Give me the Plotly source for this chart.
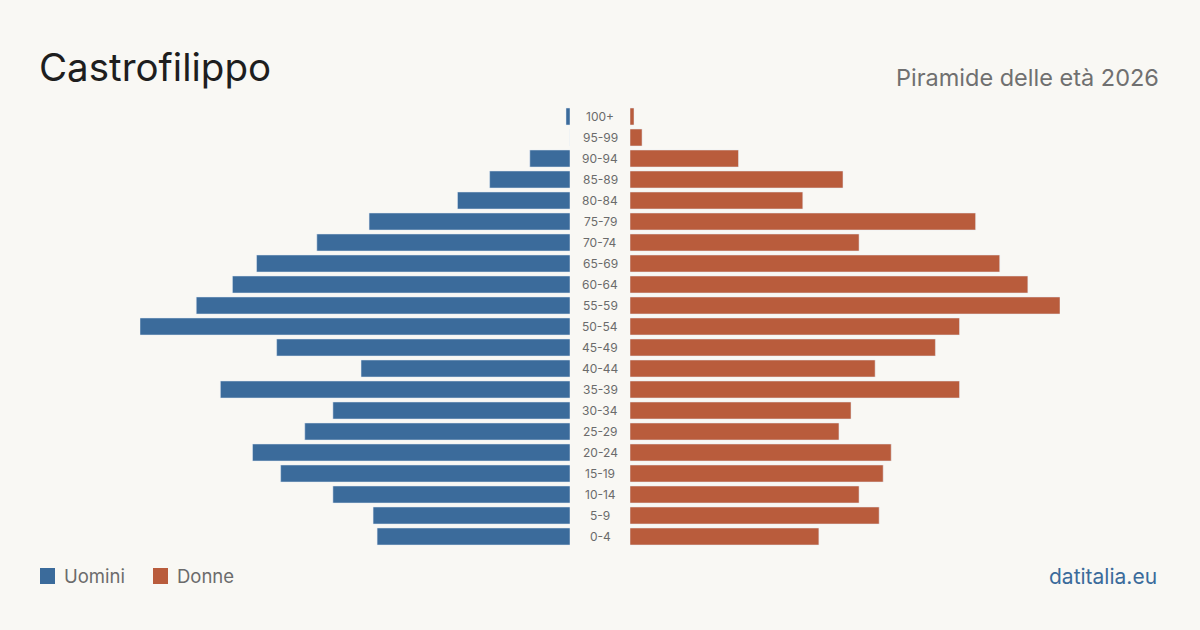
import plotly.graph_objects as go

age_groups = ["0-4", "5-9", "10-14", "15-19", "20-24", "25-29", "30-34", "35-39",
              "40-44", "45-49", "50-54", "55-59", "60-64", "65-69", "70-74",
              "75-79", "80-84", "85-89", "90-94", "95-99", "100+"]
uomini = [48, 49, 59, 72, 79, 66, 59, 87, 52, 73, 107, 93, 84, 78, 63, 50, 28, 20, 10, 0, 1]
donne = [47, 62, 57, 63, 65, 52, 55, 82, 61, 76, 82, 107, 99, 92, 57, 86, 43, 53, 27, 3, 1]

title = "Castrofilippo"
subtitle = "Piramide delle età 2026"
source = "datitalia.eu"

BLUE = "#3b6b9b"
ORANGE = "#b95c3c"
BG = "#f9f8f4"
W, H = 1200, 630

vmax = max(max(uomini), max(donne))

fig = go.Figure()
fig.add_trace(go.Bar(y=age_groups, x=uomini, orientation="h", marker_color=BLUE,
                     name="Uomini", xaxis="x", yaxis="y", showlegend=False,
                     hovertemplate="%{y}: %{x}<extra>Uomini</extra>"))
fig.add_trace(go.Bar(y=age_groups, x=donne, orientation="h", marker_color=ORANGE,
                     name="Donne", xaxis="x2", yaxis="y", showlegend=False,
                     hovertemplate="%{y}: %{x}<extra>Donne</extra>"))

# age labels in the central gap
for g in age_groups:
    fig.add_annotation(x=0.5, xref="paper", y=g, yref="y", text=g, showarrow=False,
                       font=dict(family="Inter", size=12, color="#6b6b6b"),
                       xanchor="center", yanchor="middle")

y_top = 1 - 106 / H
y_bot = 1 - 547 / H

fig.update_layout(
    width=W, height=H,
    paper_bgcolor=BG, plot_bgcolor=BG,
    margin=dict(l=0, r=0, t=0, b=0),
    bargap=0.19,
    xaxis=dict(domain=[140 / W, 570 / W], range=[vmax, 0], visible=False, fixedrange=True),
    xaxis2=dict(domain=[630 / W, 1060 / W], range=[0, vmax], visible=False, fixedrange=True),
    yaxis=dict(domain=[y_bot, y_top], visible=False, categoryorder="array",
               categoryarray=age_groups, range=[-0.5, len(age_groups) - 0.5]),
    font=dict(family="Inter"),
)

# titles
fig.add_annotation(x=37 / W, y=1 - 67 / H, xref="paper", yref="paper", text=title,
                   showarrow=False, xanchor="left", yanchor="middle",
                   font=dict(family="Inter", size=38.5, color="#1e1e1e"))
fig.add_annotation(x=1161 / W, y=1 - 77 / H, xref="paper", yref="paper", text=subtitle,
                   showarrow=False, xanchor="right", yanchor="middle",
                   font=dict(family="Inter", size=23.5, color="#707070"))
fig.add_annotation(x=1159 / W, y=1 - 576 / H, xref="paper", yref="paper", text=source,
                   showarrow=False, xanchor="right", yanchor="middle",
                   font=dict(family="Inter", size=21, color="#3b6b9b"))

# legend
legend_items = [("Uomini", BLUE, 40), ("Donne", ORANGE, 153)]
for name, color, x0 in legend_items:
    fig.add_shape(type="rect", xref="paper", yref="paper",
                  x0=x0 / W, x1=(x0 + 15) / W, y0=1 - 584 / H, y1=1 - 568 / H,
                  fillcolor=color, line=dict(width=0))
    fig.add_annotation(x=(x0 + 22) / W, y=1 - 576 / H, xref="paper", yref="paper", text=name,
                       showarrow=False, xanchor="left", yanchor="middle",
                       font=dict(family="Inter", size=18.5, color="#6b6b6b"))

fig.write_html("out.html")
